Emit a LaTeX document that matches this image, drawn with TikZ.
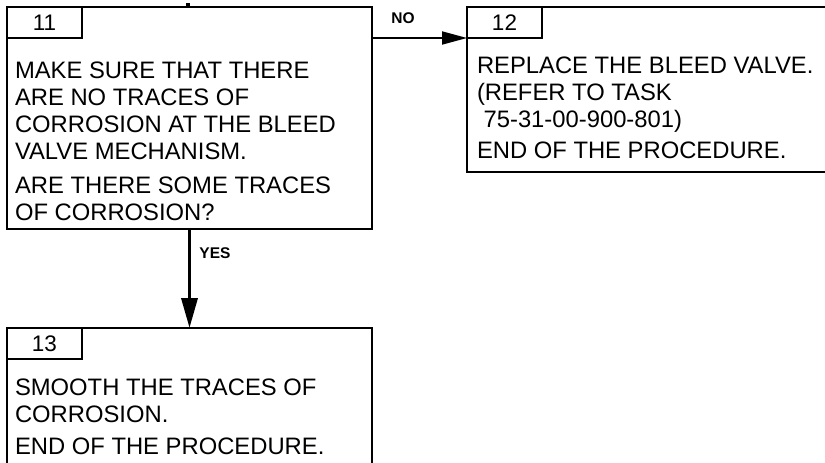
\documentclass[tikz,border=0pt]{standalone}
\usepackage{fontspec}
\setmainfont{Liberation Sans}
\usetikzlibrary{arrows.meta}

\begin{document}
\begin{tikzpicture}[x=1pt, y=-1pt, line width=1.8pt,
  every node/.style={inner sep=0pt, outer sep=0pt},
  stepbox/.style={draw, anchor=north west},
  numbox/.style={draw, anchor=north west, minimum width=75pt, minimum height=31pt, font=\fontsize{22.5}{26}\selectfont},
  steptext/.style={anchor=north west, align=left, font=\fontsize{23.8}{27}\selectfont},
  answer/.style={font=\fontsize{15.5}{18}\selectfont\bfseries}]
\useasboundingbox (0,0) rectangle (825,463);

\node[stepbox, minimum width=365pt, minimum height=222pt] (b11) at (7,7) {};
\node[numbox] (n11) at (7,7) {11};
\node[steptext] (t11) at (15,61.5) {MAKE SURE THAT THERE\\ARE NO TRACES OF\\CORROSION AT THE BLEED\\VALVE MECHANISM.\\[7pt]ARE THERE SOME TRACES\\OF CORROSION?};

\node[stepbox, minimum width=372pt, minimum height=165pt] (b12) at (467,7) {};
\node[numbox] (n12) at (467,7) {12};
\node[steptext] (t12) at (477,57) {REPLACE THE BLEED VALVE.\\(REFER TO TASK\\\ 75-31-00-900-801)\\[4pt]END OF THE PROCEDURE.};

\node[stepbox, minimum width=365pt, minimum height=150pt] (b13) at (7,328) {};
\node[numbox] (n13) at (7,328) {13};
\node[steptext] (t13) at (15,379) {SMOOTH THE TRACES OF\\CORROSION.\\[5pt]END OF THE PROCEDURE.};

\coordinate (in11) at (188,3);
\draw[line width=3.5pt] (in11) -- (in11 |- b11.north);

\draw[-{Triangle[length=25pt,width=13pt]}] (b11.east |- n11.south) -- (b12.west |- n11.south);
\node[answer] (no) at (403,18) {NO};

\draw[line width=3.5pt, -{Triangle[length=30pt,width=16pt]}] (b11.south) -- (b13.north);
\node[answer] (yes) at (215,253) {YES};
\end{tikzpicture}
\end{document}
